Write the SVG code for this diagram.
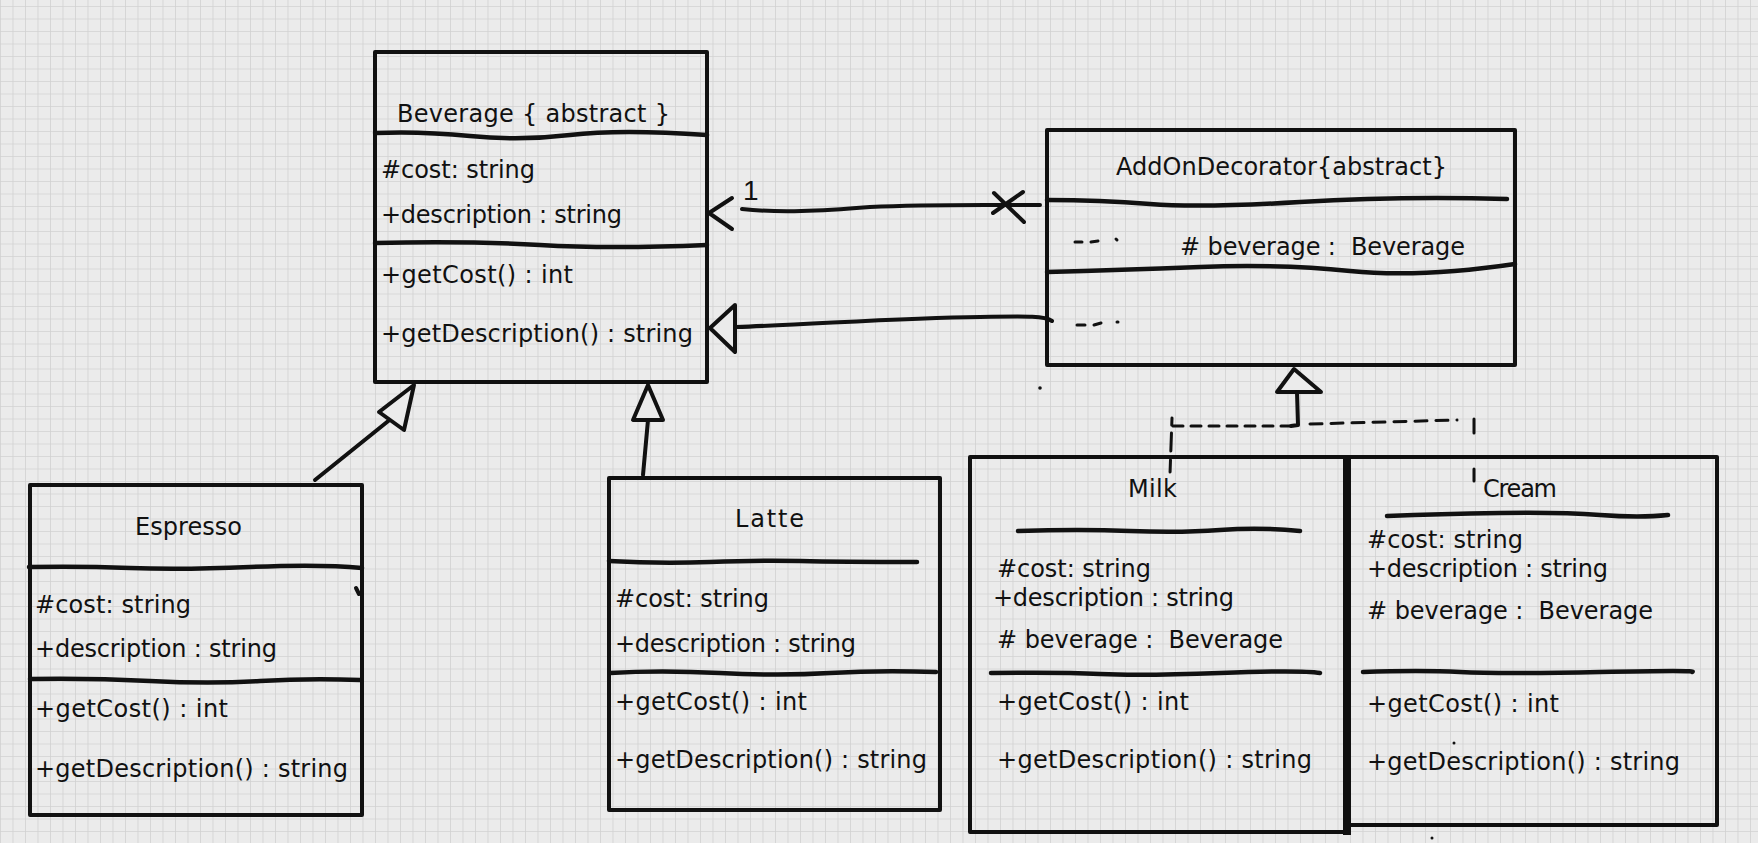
<svg xmlns="http://www.w3.org/2000/svg" width="1758" height="843" viewBox="0 0 1758 843">
<defs>
<pattern id="grid" x="0" y="6" width="12.5" height="12.5" patternUnits="userSpaceOnUse">
<path d="M0,0 H12.5 M0,0 V12.5" stroke="#d2d2d2" stroke-width="1.6" fill="none"/>
</pattern>
</defs>
<style>
.box{fill:none;stroke:#111;stroke-width:4;stroke-linejoin:round;stroke-linecap:round}
.sep{fill:none;stroke:#111;stroke-width:4.5;stroke-linecap:round}
.ln{fill:none;stroke:#111;stroke-width:4;stroke-linecap:round;stroke-linejoin:round}
.tri{fill:#ebebeb;stroke:#111;stroke-width:4;stroke-linejoin:round}
.dash{fill:none;stroke:#111;stroke-width:3;stroke-linecap:round}
.thick{fill:none;stroke:#111;stroke-width:8}
text{font-family:"DejaVu Sans","Noto Sans",sans-serif;font-size:24px;fill:#111;white-space:pre}
.one{font-family:"Liberation Sans",Arial,sans-serif;font-size:28px}
</style>
<rect width="1758" height="843" fill="#ebebeb"/>
<rect width="1758" height="843" fill="url(#grid)"/>

<g id="beverage">
<path class="box" d="M375,52 L707,52 L707,382 L375,382 Z"/>
<path class="sep" d="M375,133 Q420,131 470,136 T570,135 T707,135"/>
<path class="sep" d="M375,243 Q470,241 540,245 T707,245"/>
<text x="397" y="122" textLength="273" lengthAdjust="spacing">Beverage { abstract }</text>
<text x="381" y="178" textLength="154" lengthAdjust="spacing">#cost: string</text>
<text x="381" y="223" textLength="241" lengthAdjust="spacing">+description : string</text>
<text x="381" y="283" textLength="192" lengthAdjust="spacing">+getCost() : int</text>
<text x="381" y="342" textLength="312" lengthAdjust="spacing">+getDescription() : string</text>
</g>

<g id="espresso">
<path class="box" d="M30,485 L362,485 L362,815 L30,815 Z"/>
<path class="sep" d="M29,567 Q80,566 130,568 T250,567 T362,568"/>
<path class="sep" d="M30,679 Q90,678 150,681 T260,681 T360,680"/>
<path class="ln" d="M356,588 L359,594"/>
<text x="135" y="535" textLength="107" lengthAdjust="spacing">Espresso</text>
<text x="35" y="613" textLength="156" lengthAdjust="spacing">#cost: string</text>
<text x="35" y="657" textLength="242" lengthAdjust="spacing">+description : string</text>
<text x="35" y="717" textLength="193" lengthAdjust="spacing">+getCost() : int</text>
<text x="35" y="777" textLength="313" lengthAdjust="spacing">+getDescription() : string</text>
</g>

<g id="latte">
<path class="box" d="M609,478 L940,478 L940,810 L609,810 Z"/>
<path class="sep" d="M609,561 Q660,564 710,562 T800,561 T917,562"/>
<path class="sep" d="M610,673 Q660,670 720,673 T830,673 T936,672"/>
<text x="735" y="527" textLength="69" lengthAdjust="spacing">Latte</text>
<text x="615" y="607" textLength="154" lengthAdjust="spacing">#cost: string</text>
<text x="615" y="652" textLength="241" lengthAdjust="spacing">+description : string</text>
<text x="615" y="710" textLength="192" lengthAdjust="spacing">+getCost() : int</text>
<text x="615" y="768" textLength="312" lengthAdjust="spacing">+getDescription() : string</text>
</g>

<g id="addon">
<path class="box" d="M1047,130 L1515,130 L1515,365 L1047,365 Z"/>
<path class="sep" d="M1047,200 Q1100,200 1150,204 T1300,202 T1507,199"/>
<path class="sep" d="M1047,272 Q1120,270 1200,267 T1350,271 T1515,264"/>
<path class="dash" d="M1075,242 L1082,242 M1091,242 L1098,241 M1116,239 L1117,240"/>
<path class="dash" d="M1077,325 L1085,325 M1094,325 L1101,323 M1117,322 L1118,322"/>
<text x="1116" y="175" textLength="331" lengthAdjust="spacing">AddOnDecorator{abstract}</text>
<text x="1180" y="255" textLength="285" lengthAdjust="spacing"># beverage :  Beverage</text>
</g>

<g id="milk">
<path class="box" d="M970,457 L1347,457 L1347,832 L970,832 Z"/>
<path class="sep" d="M1018,531 Q1080,529 1130,531 T1220,530 T1300,531"/>
<path class="sep" d="M991,673 Q1060,672 1100,674 T1220,673 T1320,673"/>
<text x="1128" y="497" textLength="49" lengthAdjust="spacing">Milk</text>
<text x="997" y="577" textLength="154" lengthAdjust="spacing">#cost: string</text>
<text x="993" y="606" textLength="241" lengthAdjust="spacing">+description : string</text>
<text x="997" y="648" textLength="286" lengthAdjust="spacing"># beverage :  Beverage</text>
<text x="997" y="710" textLength="192" lengthAdjust="spacing">+getCost() : int</text>
<text x="997" y="768" textLength="315" lengthAdjust="spacing">+getDescription() : string</text>
</g>

<g id="cream">
<path class="box" d="M1347,457 L1717,457 L1717,825 L1347,825"/>
<path class="thick" d="M1347,455 L1347,835"/>
<path class="sep" d="M1387,516 Q1440,514 1500,513 T1600,515 T1668,515"/>
<path class="sep" d="M1363,672 Q1420,670 1460,672 T1600,672 T1692,672"/>
<text x="1483" y="497" textLength="74" lengthAdjust="spacing">Cream</text>
<text x="1367" y="548" textLength="156" lengthAdjust="spacing">#cost: string</text>
<text x="1367" y="577" textLength="241" lengthAdjust="spacing">+description : string</text>
<text x="1367" y="619" textLength="286" lengthAdjust="spacing"># beverage :  Beverage</text>
<text x="1367" y="712" textLength="192" lengthAdjust="spacing">+getCost() : int</text>
<text x="1367" y="770" textLength="313" lengthAdjust="spacing">+getDescription() : string</text>
<circle cx="1454" cy="743" r="1.5" fill="#111"/>
<circle cx="1432" cy="838" r="1.5" fill="#111"/>
</g>

<g id="connectors">
<path class="ln" d="M732,198 L709,213 L732,229"/>
<path class="ln" d="M742,209 C780,213 820,211 870,207 C930,204 980,205 1040,205"/>
<path class="ln" d="M994,193 L1024,222 M993,213 L1023,192"/>
<text class="one" x="743" y="200">1</text>
<path class="tri" d="M735,305 L710,328 L735,352 Z"/>
<path class="ln" d="M736,327 C820,324 900,318 980,317 C1030,316 1045,316 1052,321"/>
<path class="ln" d="M315,480 L392,418"/>
<path class="tri" d="M414,385 L379,412 L404,430 Z"/>
<path class="ln" d="M643,475 L648,420"/>
<path class="tri" d="M648,385 L633,420 L663,420 Z"/>
<path class="tri" d="M1294,369 L1277,392 L1321,392 Z"/>
<path class="ln" d="M1297,392 L1298,425 L1291,426"/>
<path class="dash" stroke-dasharray="10,8" d="M1173,426 L1290,426"/>
<path class="dash" stroke-dasharray="12,9" d="M1310,424 L1457,420"/>
<path class="dash" stroke-dasharray="7,8,18,9,12,10" d="M1172,418 L1170,474"/>
<path class="dash" stroke-dasharray="14,36,12,100" d="M1474,419 L1474,482"/>
<circle cx="1040" cy="388" r="1.8" fill="#111"/>
</g>
</svg>
